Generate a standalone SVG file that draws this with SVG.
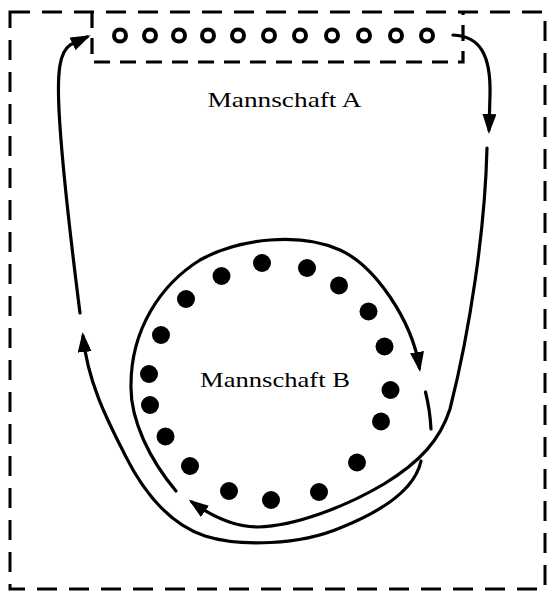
<svg xmlns="http://www.w3.org/2000/svg" width="547" height="592" viewBox="0 0 547 592">
  <style>
    .frame { fill: none; stroke: #000; stroke-width: 3; stroke-dasharray: 20 12; }
    .box { fill: none; stroke: #000; stroke-width: 3.2; stroke-dasharray: 16 10; }
    .open { fill: none; stroke: #000; stroke-width: 4; }
    .dot { fill: #000; }
    .line { fill: none; stroke: #000; stroke-width: 3.2; stroke-linecap: round; }
    .arrow { marker-end: url(#ah); }
    .label { font-family: "Liberation Serif", "Times New Roman", serif; font-size: 21px; fill: #000; }
  </style>
  <defs>
    <marker id="ah" viewBox="0 0 20 14" refX="16" refY="7" markerWidth="20" markerHeight="14" markerUnits="userSpaceOnUse" orient="auto">
      <path d="M0,0 L20,7 L0,14 z" fill="#000"/>
    </marker>
  </defs>
  <rect width="547" height="592" fill="#fff"/>

  <g id="frame">
    <rect class="frame" x="10" y="12" width="535" height="577"/>
  </g>

  <g id="team-a">
    <path class="box" d="M92,12 V62 H463 V12"/>
    <g class="open">
      <circle cx="120" cy="35.5" r="6"/>
      <circle cx="150" cy="35.5" r="6"/>
      <circle cx="179" cy="35.5" r="6"/>
      <circle cx="208" cy="35.5" r="6"/>
      <circle cx="238" cy="35.5" r="6"/>
      <circle cx="269" cy="35.5" r="6"/>
      <circle cx="300" cy="35.5" r="6"/>
      <circle cx="332" cy="35.5" r="6"/>
      <circle cx="364" cy="35.5" r="6"/>
      <circle cx="396" cy="35.5" r="6"/>
      <circle cx="427" cy="35.5" r="6"/>
    </g>
    <text class="label" x="207.5" y="107" textLength="154" lengthAdjust="spacingAndGlyphs">Mannschaft A</text>
  </g>

  <g id="team-b">
    <g class="dot">
      <circle cx="262" cy="263" r="9"/>
      <circle cx="307" cy="268" r="9"/>
      <circle cx="221.5" cy="276" r="9"/>
      <circle cx="339" cy="285.5" r="9"/>
      <circle cx="186" cy="299" r="9"/>
      <circle cx="368.5" cy="311.5" r="9"/>
      <circle cx="161" cy="335" r="9"/>
      <circle cx="384.5" cy="346.5" r="9"/>
      <circle cx="149" cy="374" r="9"/>
      <circle cx="390.5" cy="390" r="9"/>
      <circle cx="150" cy="405" r="9"/>
      <circle cx="381" cy="421.5" r="9"/>
      <circle cx="165.5" cy="436.5" r="9"/>
      <circle cx="357" cy="462.5" r="9"/>
      <circle cx="190" cy="466" r="9"/>
      <circle cx="229" cy="491" r="9"/>
      <circle cx="271" cy="500" r="9"/>
      <circle cx="319" cy="492" r="9"/>
    </g>
    <text class="label" x="200" y="387" textLength="150" lengthAdjust="spacingAndGlyphs">Mannschaft B</text>
  </g>

  <g id="connectors">
    <path class="line arrow" d="M453,35 C480,36 491,55 490,95 L489,130"/>
    <path class="line arrow" d="M487,148 C485,230 470,330 450,409 C440,440 420,462 384,484 C345,507 295,526 258,527 C232,527 210,515 192,502"/>
    <path class="line arrow" d="M176,491 C150,460 130,420 131,385 C131,330 160,285 200,260 C240,238 300,232 340,250 C375,266 412,320 419.5,368"/>
    <path class="line" d="M425.5,392 Q430,410 431,429"/>
    <path class="line arrow" d="M421,461 C416,485 390,508 340,528 C300,545 240,547 205,536 C172,525 145,495 125,455 C110,425 88,385 83,336"/>
    <path class="line arrow" d="M80,313 C72,250 62,170 59,110 C57,70 60,52 70,45 L87,37"/>
  </g>
</svg>
